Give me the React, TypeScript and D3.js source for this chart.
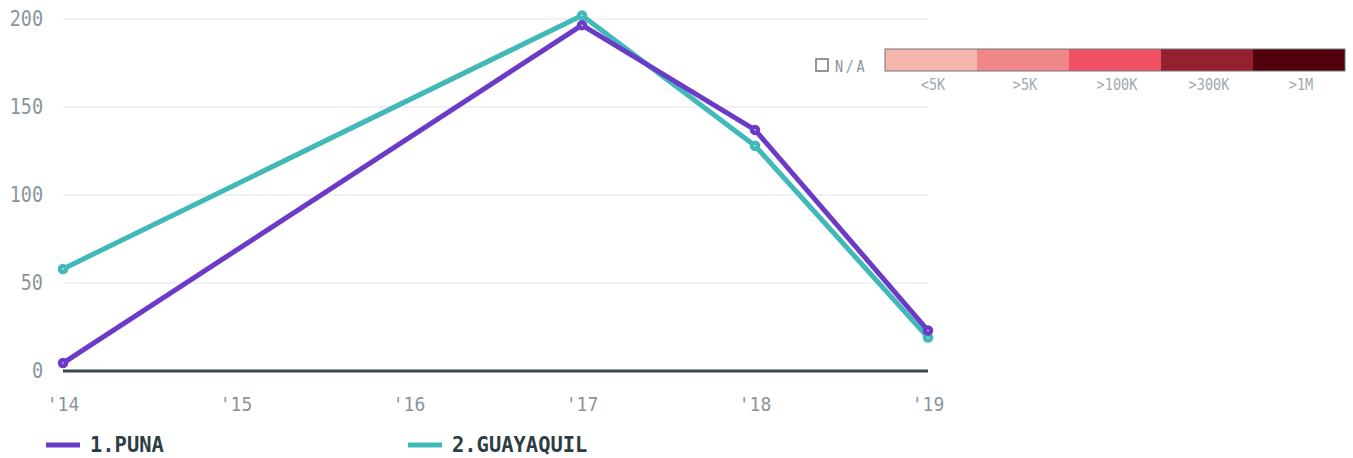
import * as d3 from "d3";

const years = [2014, 2015, 2016, 2017, 2018, 2019];
const yearLabels = ["'14", "'15", "'16", "'17", "'18", "'19"];
const yTicks = [0, 50, 100, 150, 200];

const punaYears = [2014, 2017, 2018, 2019];
const punaValues = [4.5, 196.5, 137, 23];
const guayaquilYears = [2014, 2017, 2018, 2019];
const guayaquilValues = [58, 202, 128, 19];

const seriesNames = ["1.PUNA", "2.GUAYAQUIL"];
const seriesColors = ["#6b3bc8", "#40b9b8"];

const bucketLabels = ["<5K", ">5K", ">100K", ">300K", ">1M"];
const bucketColors = ["#f4b6ad", "#f08889", "#ef5063", "#952130", "#52000b"];

const W = 1353;
const H = 458;
const mono = "'DejaVu Sans Mono', monospace";

export default function App() {
  const x = d3.scaleLinear().domain([2014, 2019]).range([63, 928]);
  const y = d3.scaleLinear().domain([0, 200]).range([371, 19]);

  const series = [
    { name: seriesNames[0], color: seriesColors[0], pts: punaYears.map((yr, i) => [yr, punaValues[i]]) },
    { name: seriesNames[1], color: seriesColors[1], pts: guayaquilYears.map((yr, i) => [yr, guayaquilValues[i]]) },
  ];
  // teal drawn first, purple on top
  const drawOrder = [series[1], series[0]];

  const line = d3.line<number[]>().x(d => x(d[0])).y(d => y(d[1]));

  const bar = d3.scaleBand().domain(bucketLabels).range([885, 1345]).padding(0);

  return (
    <svg width={W} height={H} style={{ position: "absolute", left: 0, top: 0, background: "#fff" }}>
      {yTicks.map(t => (
        <g key={t}>
          {t > 0 && <line x1={63} x2={928} y1={y(t)} y2={y(t)} stroke="#ebedef" strokeWidth={1.5} />}
          <text
            transform={`translate(43,${y(t) + 7}) scale(0.88,1)`}
            textAnchor="end"
            fontFamily={mono}
            fontSize={21}
            fill="#8b949a"
          >
            {t}
          </text>
        </g>
      ))}
      <line x1={63} x2={928} y1={y(0)} y2={y(0)} stroke="#37474f" strokeWidth={3} />
      {years.map((yr, i) => (
        <text
          key={yr}
          transform={`translate(${x(yr)},${411}) scale(0.9,1)`}
          textAnchor="middle"
          fontFamily={mono}
          fontSize={20}
          fill="#8b949a"
        >
          {yearLabels[i]}
        </text>
      ))}
      {drawOrder.map(s => (
        <g key={s.name}>
          <path d={line(s.pts) || ""} fill="none" stroke={s.color} strokeWidth={5} strokeLinejoin="round" />
          {s.pts.map((p, i) => (
            <circle key={i} cx={x(p[0])} cy={y(p[1])} r={3} fill="#fff" stroke={s.color} strokeWidth={4.5} />
          ))}
        </g>
      ))}
      {series.map((s, i) => {
        const lx = i === 0 ? 46 : 408;
        return (
          <g key={s.name}>
            <line x1={lx} x2={lx + 34} y1={445} y2={445} stroke={s.color} strokeWidth={5} />
            <text
              transform={`translate(${lx + 44},452) scale(0.93,1)`}
              fontFamily={mono}
              fontWeight="bold"
              fontSize={22}
              fill="#2e3c43"
            >
              {s.name}
            </text>
          </g>
        );
      })}
      <rect x={816} y={59} width={12} height={12} fill="#fff" stroke="#6f7579" strokeWidth={1.5} />
      <text
        transform="translate(835,72) scale(0.85,1)"
        fontFamily={mono}
        fontSize={16}
        letterSpacing={3}
        fill="#8b949a"
      >
        N/A
      </text>
      {bucketLabels.map((b, i) => (
        <g key={b}>
          <rect x={bar(b)} y={49} width={bar.bandwidth()} height={22} fill={bucketColors[i]} />
          <text
            transform={`translate(${(bar(b) || 0) + bar.bandwidth() / 2 + 2},90) scale(0.85,1)`}
            textAnchor="middle"
            fontFamily={mono}
            fontSize={16}
            fill="#a2a9ae"
          >
            {b}
          </text>
        </g>
      ))}
      <rect x={885} y={49} width={460} height={22} fill="none" stroke="#70767a" strokeWidth={1} />
    </svg>
  );
}
